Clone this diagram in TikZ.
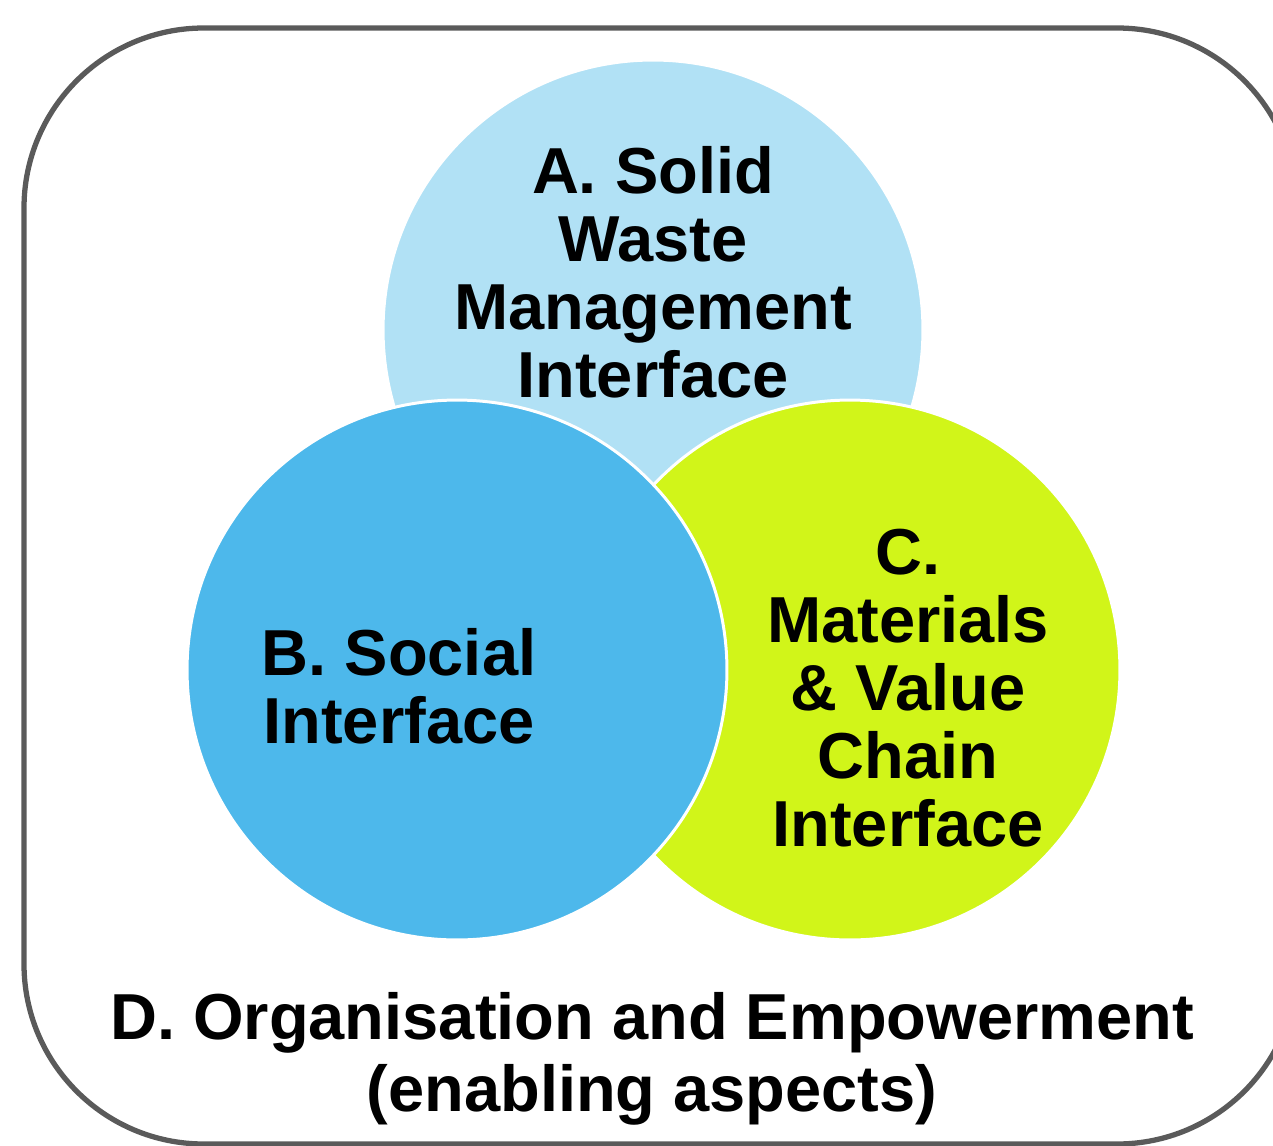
\documentclass[tikz,border=0pt]{standalone}
\usepackage{fontspec}
\setmainfont{Liberation Sans}
\usetikzlibrary{positioning}

\definecolor{boxgrey}{HTML}{5A5A5A}
\definecolor{wasteblue}{HTML}{B1E1F5}
\definecolor{socialblue}{HTML}{4DB8EB}
\definecolor{valuelime}{HTML}{D1F519}

\tikzset{
  sphere/.style={circle, draw=white, line width=1.7pt, minimum size=10.8cm, inner sep=0pt},
  label text/.style={font=\bfseries\fontsize{37}{38.7}\selectfont, align=center, inner sep=0pt},
}

\begin{document}
\begin{tikzpicture}[x=0.02cm, y=-0.02cm]
    \useasboundingbox (0,0) rectangle (1273,1145);
    \clip (0,0) rectangle (1273,1145);

    % Outer frame
    \draw [boxgrey, line width=3pt, rounded corners=3.6cm] (24,28) rectangle (1297,1144);

    % Circles
    \node [sphere, fill=wasteblue] (waste) at (653,330) {};
    \node [sphere, fill=valuelime] (value) at (850,670) {};
    \node [sphere, fill=socialblue] (social) at (457,670) {};

    % Labels
    \node [label text] (wastetext) at (653,272) {A. Solid\\Waste\\Management\\Interface};
    \node [label text] (socialtext) at (399,686) {B. Social\\Interface};
    \node [label text] (valuetext) at (908,688) {C.\\Materials\\\& Value\\Chain\\Interface};

    % Enabling aspects
    \node [label text, font=\bfseries\fontsize{37}{41}\selectfont] (organisation) at (652,1059)
        {D. Organisation and Empowerment\\(enabling aspects)};
\end{tikzpicture}
\end{document}
